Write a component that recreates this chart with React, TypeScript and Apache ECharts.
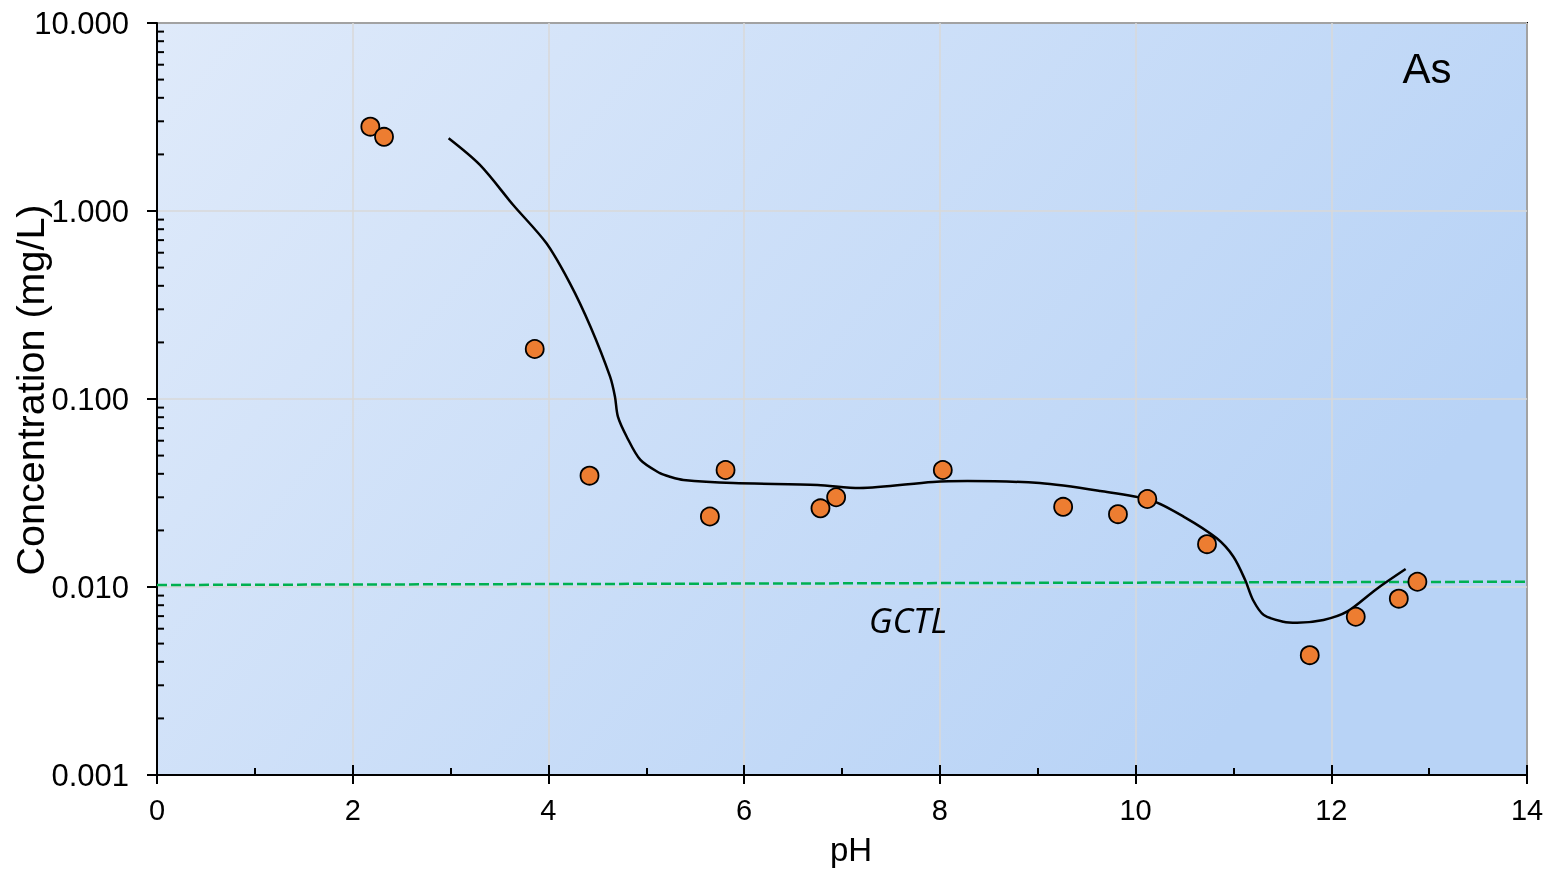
import React, { useEffect, useRef } from "react";
import * as echarts from "echarts";

// Measured As concentrations (pH, mg/L)
const samplePH = [2.18, 2.32, 3.86, 4.42, 5.65, 5.81, 6.78, 6.94, 8.03, 9.26, 9.82, 10.12, 10.73, 11.78, 12.25, 12.69, 12.88];
const sampleConc = [2.81, 2.48, 0.1845, 0.0391, 0.0237, 0.0419, 0.0262, 0.0300, 0.0419, 0.0267, 0.0244, 0.0294, 0.0169, 0.00434, 0.00695, 0.00867, 0.01067];

// Fitted trend curve
const curvePH = [2.98, 3.3, 3.64, 3.98, 4.22, 4.43, 4.63, 4.68, 4.71, 4.8, 4.94, 5.14, 5.24, 5.38, 5.89, 6.75, 7.18, 7.93, 8.28, 9.02, 9.64, 10.15, 10.49, 10.83, 11.0, 11.12, 11.2, 11.31, 11.51, 11.65, 11.92, 12.16, 12.46, 12.76];
const curveConc = [2.436, 1.757, 1.076, 0.673, 0.4125, 0.2424, 0.1314, 0.1028, 0.0805, 0.063, 0.0474, 0.0403, 0.0386, 0.0371, 0.0357, 0.0349, 0.0336, 0.0362, 0.0366, 0.0357, 0.0324, 0.029, 0.0237, 0.01815, 0.01449, 0.01089, 0.00853, 0.0071, 0.00654, 0.00646, 0.00668, 0.00739, 0.00974, 0.01246];

// GCTL reference line
const gctlPH = [0, 14];
const gctlConc = [0.01025, 0.01067];

// Axis ticks
const yMajorTicks = [0.001, 0.01, 0.1, 1, 10];
const yMinorMultipliers = [2, 3, 4, 5, 6, 7, 8, 9];

const FONT = "'Liberation Sans', Arial, sans-serif";

export default function App() {
  const ref = useRef<HTMLDivElement>(null);

  useEffect(() => {
    if (!ref.current) return;
    const chart = echarts.init(ref.current, null, { renderer: "svg" });

    const minorTickData: number[][] = [];
    for (let i = 0; i < yMajorTicks.length - 1; i++) {
      for (const m of yMinorMultipliers) minorTickData.push([0, +(yMajorTicks[i] * m).toPrecision(6)]);
    }

    const option: any = {
      animation: false,
      grid: {
        left: 157,
        right: 35,
        top: 23,
        bottom: 95,
        containLabel: false,
        outerBoundsMode: "none",
        show: true,
        borderColor: "#000",
        borderWidth: 2,
        backgroundColor: new echarts.graphic.LinearGradient(0, 0, 1, 0.45, [
          { offset: 0, color: "#dfeafa" },
          { offset: 1, color: "#b8d3f6" },
        ]),
      },
      xAxis: [
        {
          type: "value",
          min: 0,
          max: 14,
          interval: 2,
          name: "pH",
          nameLocation: "middle",
          nameGap: 58,
          nameTextStyle: { fontSize: 33, color: "#000", fontFamily: FONT, padding: [0, 0, 0, 18] },
          axisLine: { show: true, lineStyle: { color: "#000", width: 2 } },
          axisTick: { show: true, inside: false, length: 9, lineStyle: { color: "#000", width: 2 } },
          axisLabel: { fontSize: 29, color: "#000", fontFamily: FONT, margin: 20 },
          splitLine: { show: true, lineStyle: { color: "#d9d9d9", width: 1.5 } },
        },
        {
          type: "value",
          min: 0,
          max: 14,
          interval: 2,
          position: "bottom",
          axisLine: { show: false },
          axisTick: { show: true, inside: true, length: 10, lineStyle: { color: "#000", width: 2 } },
          minorTick: { show: true, splitNumber: 2, length: 7, lineStyle: { color: "#000", width: 2 } },
          axisLabel: { show: false },
          splitLine: { show: false },
        },
      ],
      yAxis: {
        type: "log",
        logBase: 10,
        min: 0.001,
        max: 10,
        name: "Concentration (mg/L)",
        nameLocation: "middle",
        nameGap: 107,
        nameMoveOverlap: false,
        nameTextStyle: { fontSize: 39.5, color: "#000", fontFamily: FONT, padding: [0, 0, 0, 18] },
        axisLine: { show: true, lineStyle: { color: "#000", width: 2 } },
        axisTick: { show: true, inside: false, length: 10, lineStyle: { color: "#000", width: 2 } },
        axisLabel: {
          fontSize: 31,
          color: "#000",
          fontFamily: FONT,
          margin: 28,
          formatter: (v: number) => v.toFixed(3),
        },
        splitLine: { show: true, lineStyle: { color: "#d9d9d9", width: 1.5 } },
      },
      graphic: [
        {
          type: "text",
          x: 1427,
          y: 68,
          style: { text: "As", fontSize: 42, fill: "#000", fontFamily: FONT, align: "center", verticalAlign: "middle" },
          z: 100,
        },
        {
          type: "text",
          x: 908,
          y: 619,
          style: {
            text: "GCTL",
            fontSize: 35,
            fontStyle: "italic",
            fill: "#000",
            fontFamily: "'Open Sans', 'Noto Sans', sans-serif",
            align: "center",
            verticalAlign: "middle",
          },
          z: 100,
        },
      ],
      series: [
        {
          type: "custom",
          name: "minorTicks",
          silent: true,
          clip: false,
          xAxisIndex: 0,
          data: minorTickData,
          renderItem: (params: any, api: any) => {
            const p = api.coord([api.value(0), api.value(1)]);
            return {
              type: "line",
              shape: { x1: p[0], y1: p[1], x2: p[0] + 7, y2: p[1] },
              style: { stroke: "#000", lineWidth: 2 },
            };
          },
          z: 5,
        },
        {
          type: "line",
          name: "GCTL",
          xAxisIndex: 0,
          data: gctlPH.map((x, i) => [x, gctlConc[i]]),
          showSymbol: false,
          lineStyle: { color: "#00b050", width: 2.5, type: [10, 4] },
          silent: true,
          z: 2,
        },
        {
          type: "line",
          name: "Trend",
          xAxisIndex: 0,
          data: curvePH.map((x, i) => [x, curveConc[i]]),
          showSymbol: false,
          smooth: 0.3,
          lineStyle: { color: "#000", width: 2.5 },
          silent: true,
          z: 3,
        },
        {
          type: "scatter",
          name: "As",
          xAxisIndex: 0,
          data: samplePH.map((x, i) => [x, sampleConc[i]]),
          symbolSize: 18,
          itemStyle: { color: "#ed7d31", borderColor: "#000", borderWidth: 1.8, opacity: 1 },
          z: 4,
        },
      ],
    };

    chart.setOption(option);
    return () => chart.dispose();
  }, []);

  return <div ref={ref} style={{ position: "fixed", left: 0, top: 0, width: 1562, height: 870 }} />;
}
